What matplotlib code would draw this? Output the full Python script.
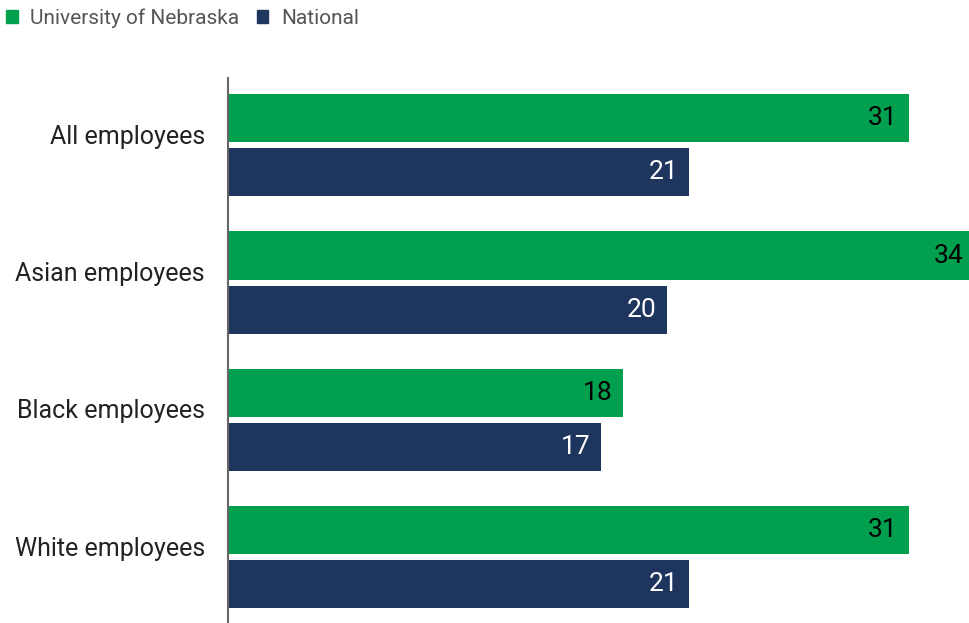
import matplotlib.pyplot as plt
import numpy as np
from matplotlib.patches import Patch

plt.rcParams['font.family'] = ['Roboto', 'DejaVu Sans']

categories = ["All employees", "Asian employees", "Black employees", "White employees"]
nebraska = [31, 34, 18, 31]
national = [21, 20, 17, 21]
series_names = ["University of Nebraska", "National"]

green = "#00A04F"
navy = "#1E355E"

fig = plt.figure(figsize=(9.69, 6.23), dpi=100)
ax = fig.add_axes([228/969, 0, 1 - 228/969, 1 - 78/623])

y = np.arange(len(categories))
h = 0.35
off = 0.197
b1 = ax.barh(y - off, nebraska, height=h, color=green)
b2 = ax.barh(y + off, national, height=h, color=navy)

ax.set_xlim(0, 33.73)
ax.set_ylim(3.48, -0.49)

for bars, vals, col in [(b1, nebraska, "black"), (b2, national, "white")]:
    for bar, v in zip(bars, vals):
        ax.annotate(str(v), (v, bar.get_y() + bar.get_height() / 2),
                    xytext=(-8, 0), textcoords="offset points",
                    ha="right", va="center", fontsize=19, color=col,
                    annotation_clip=False)

ax.set_yticks(y - 0.08)
ax.set_yticklabels(categories, fontsize=18, color="#222222")
ax.tick_params(axis="y", length=0, pad=16.5)
ax.set_xticks([])
for s in ["top", "right", "bottom"]:
    ax.spines[s].set_visible(False)
ax.spines["left"].set_color("#666666")
ax.spines["left"].set_linewidth(1.5)

handles = [Patch(color=green), Patch(color=navy)]
fig.legend(handles, series_names, loc="upper left", bbox_to_anchor=(-0.013, 1.017),
           ncol=2, frameon=False, fontsize=15, handlelength=0.55, handleheight=0.55,
           handletextpad=0.6, columnspacing=0.85, labelcolor="#555555")

fig.savefig("out.png", dpi=100)
